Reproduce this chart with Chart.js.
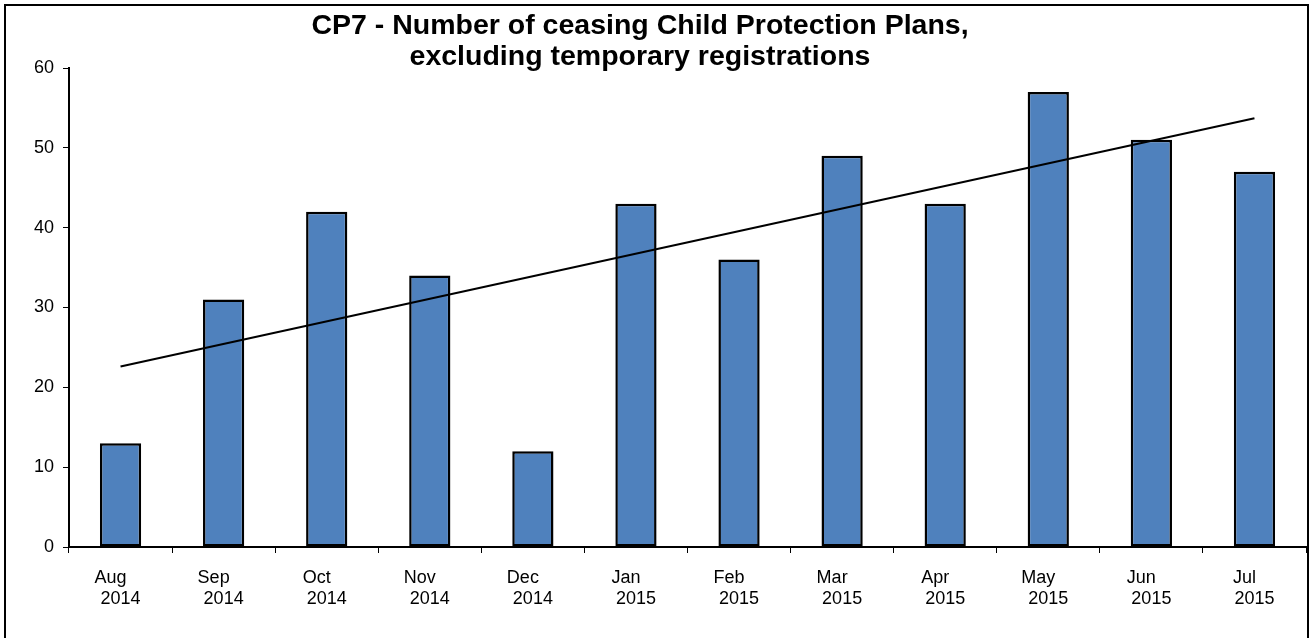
<!DOCTYPE html>
<html><head><meta charset="utf-8">
<script src="https://cdn.jsdelivr.net/npm/chart.js@4"></script>
<style>html,body{margin:0;padding:0;background:#fff}canvas{display:block}</style>
</head><body>
<canvas id="c" width="1312" height="638"></canvas>
<script>
const titleLines = ["CP7 - Number of ceasing Child Protection Plans,", "excluding temporary registrations"];
const months = ["Aug","Sep","Oct","Nov","Dec","Jan","Feb","Mar","Apr","May","Jun","Jul"];
const years = ["2014","2014","2014","2014","2014","2015","2015","2015","2015","2015","2015","2015"];
const ceasingPlans = [13,31,42,34,12,43,36,49,43,57,51,47];
const trendStartEnd = [22.6, 53.7];
const yTickValues = [0,10,20,30,40,50,60];

const FONT = "'Liberation Sans', Arial, sans-serif";
const labels = months.map((m,i)=>[m + "    ", years[i]]);
const trend = ceasingPlans.map((_,i)=> i===0 ? trendStartEnd[0] : (i===ceasingPlans.length-1 ? trendStartEnd[1] : null));

const framePlugin = {
  id:'frame',
  afterDraw(chart){
    const ctx = chart.ctx;
    ctx.save();
    ctx.strokeStyle = '#000';
    ctx.lineWidth = 2;
    ctx.strokeRect(5,5,1303,700);
    ctx.fillStyle = '#000';
    ctx.font = "bold 28.5px " + FONT;
    ctx.textAlign = 'center';
    ctx.textBaseline = 'alphabetic';
    ctx.fillText(titleLines[0], 640, 34);
    ctx.fillText(titleLines[1], 640, 65);
    ctx.restore();
  }
};

new Chart(document.getElementById('c'), {
  type:'bar',
  data:{
    labels: labels,
    datasets:[
      {type:'line', data: trend, borderColor:'#000', borderWidth:2, pointRadius:0, spanGaps:true, fill:false, order:0},
      {type:'bar', data: ceasingPlans, backgroundColor:'#4F81BD', borderColor:'#000', borderWidth:2.5, borderSkipped:false, barPercentage:0.4, categoryPercentage:1.0, order:1}
    ]
  },
  options:{
    responsive:false, animation:false, devicePixelRatio:1,
    layout:{padding:{top:68,right:6,left:0,bottom:0}},
    plugins:{legend:{display:false}, tooltip:{enabled:false}, title:{display:false}},
    scales:{
      x:{
        offset:true,
        grid:{display:true, drawOnChartArea:false, drawTicks:true, tickLength:6, color:'#000', lineWidth:1, offset:true},
        border:{display:true, color:'#000', width:2},
        ticks:{color:'#000', font:{family:FONT, size:18}, padding:14, maxRotation:0, autoSkip:false},
        afterFit(s){ s.height = 91; }
      },
      y:{
        min:0, max:60,
        afterBuildTicks(s){ s.ticks = yTickValues.map(v=>({value:v})); },
        grid:{display:true, drawOnChartArea:false, drawTicks:true, tickLength:6, color:'#000', lineWidth:1},
        border:{display:true, color:'#000', width:2},
        ticks:{color:'#000', font:{family:FONT, size:18}, padding:9},
        afterFit(s){ s.width = 69; }
      }
    }
  },
  plugins:[framePlugin]
});
</script>
</body></html>
